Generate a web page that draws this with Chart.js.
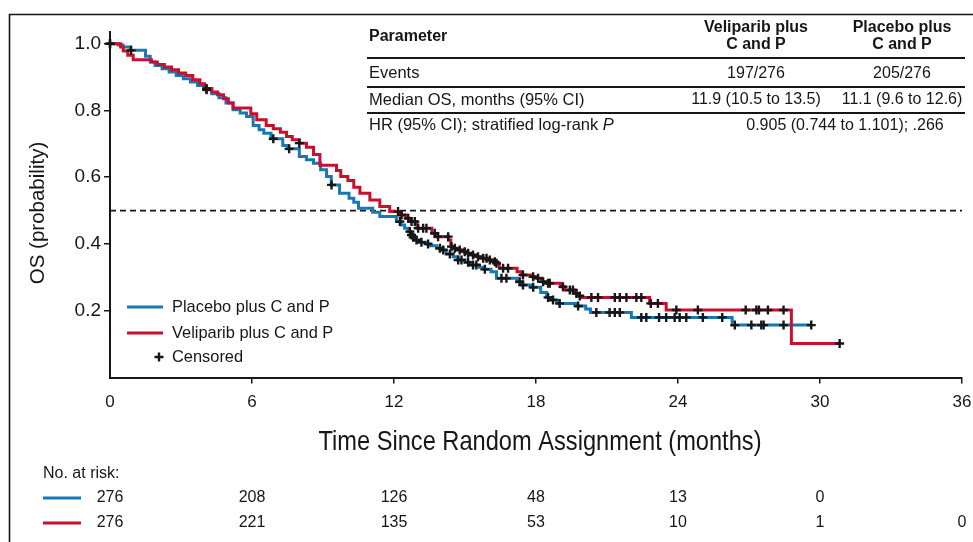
<!DOCTYPE html>
<html><head><meta charset="utf-8">
<script src="https://cdn.jsdelivr.net/npm/chart.js@4/dist/chart.umd.min.js"></script>
<style>html,body{margin:0;padding:0;background:#fff;}#c{display:block;}</style>
</head><body>
<canvas id="c" width="973" height="542"></canvas>
<script>
// ---- Data ----
const placeboT = [0,0.35,0.55,0.85,1.5,1.7,1.9,2.2,2.5,2.8,3.1,3.4,3.7,4.0,4.3,4.6,4.9,5.2,5.5,5.77,6.05,6.3,6.5,6.8,7.3,7.5,8.0,8.3,8.6,8.9,9.15,9.35,9.7,10.1,10.3,10.5,11.1,11.4,12.1,12.3,12.45,12.6,12.72,12.8,12.9,13.1,13.4,13.55,13.8,14.0,14.2,14.5,14.7,15.0,15.2,15.6,15.8,16.1,16.33,17.2,17.4,17.8,18.2,18.45,18.65,18.9,19.7,20.1,20.3,22.03,26.29,29.63];
const placeboS = [1.0,0.996,0.99,0.98,0.962,0.945,0.935,0.925,0.915,0.905,0.895,0.885,0.875,0.862,0.85,0.838,0.822,0.802,0.792,0.782,0.755,0.742,0.732,0.715,0.695,0.685,0.662,0.652,0.642,0.622,0.602,0.577,0.552,0.537,0.525,0.507,0.495,0.482,0.467,0.457,0.447,0.437,0.427,0.42,0.412,0.405,0.4,0.395,0.387,0.382,0.37,0.362,0.352,0.345,0.337,0.33,0.324,0.317,0.297,0.287,0.277,0.27,0.255,0.24,0.232,0.222,0.214,0.205,0.195,0.18,0.157,0.157];
const veliparibT = [0,0.45,0.56,0.75,0.98,1.75,2.0,2.3,2.6,2.9,3.2,3.5,3.8,4.0,4.3,4.55,4.8,5.0,5.2,5.95,6.2,6.6,6.9,7.2,7.46,7.7,8.0,8.3,8.6,8.87,9.57,9.75,10.05,10.3,10.56,10.98,11.4,11.82,12.25,12.5,12.65,12.95,13.0,13.6,13.75,14.3,14.4,14.55,14.7,14.95,15.1,15.3,15.5,15.7,16.0,16.2,16.3,16.45,17.2,17.4,17.85,18.05,18.25,18.45,19.05,19.2,19.65,19.8,19.95,22.8,23.5,28.79,30.83];
const veliparibS = [1.0,0.99,0.978,0.965,0.952,0.945,0.938,0.93,0.922,0.912,0.905,0.892,0.88,0.866,0.855,0.847,0.835,0.822,0.807,0.79,0.772,0.755,0.745,0.735,0.722,0.712,0.702,0.69,0.668,0.636,0.62,0.602,0.59,0.57,0.552,0.532,0.512,0.497,0.487,0.477,0.467,0.457,0.447,0.432,0.422,0.412,0.392,0.387,0.382,0.377,0.372,0.367,0.362,0.357,0.352,0.347,0.342,0.327,0.317,0.307,0.302,0.297,0.287,0.282,0.272,0.262,0.252,0.244,0.24,0.222,0.202,0.102,0.102];
const placeboCensorT = [0,0.89,4.08,6.9,7.57,9.36,12.25,12.67,12.74,12.81,12.95,13.16,13.44,13.94,14.08,14.36,14.71,14.85,15.13,15.34,15.48,15.84,16.54,16.75,17.31,17.45,17.88,18.51,18.72,19.0,19.78,20.55,21.11,21.33,21.54,22.45,22.66,23.2,23.5,23.86,24.07,24.35,25.05,25.87,26.4,27.1,27.52,27.62,28.46,29.63];
const veliparibCensorT = [0,4.08,8.0,12.17,12.32,12.6,12.74,12.88,13.02,13.23,13.37,13.72,13.86,14.29,14.43,14.57,14.78,14.99,15.13,15.34,15.55,15.77,15.91,16.05,16.26,16.33,16.61,16.82,17.45,17.88,18.09,18.3,18.51,18.58,19.14,19.43,19.56,19.71,19.85,20.34,20.62,21.33,21.54,21.82,22.24,22.45,22.85,23.15,23.93,24.84,26.86,27.31,27.42,27.8,28.46,30.83];
const xTicks = [0,6,12,18,24,30,36];
const yTicks = [0.2,0.4,0.6,0.8,1.0];
const medianRef = 0.5;
const riskTimes = [0,6,12,18,24,30,36];
const riskPlacebo = [276,208,126,48,13,0,null];
const riskVeliparib = [276,221,135,53,10,1,0];
const seriesNames = ['Placebo plus C and P','Veliparib plus C and P','Censored'];
const tableHeaders = ['Parameter',['Veliparib plus','C and P'],['Placebo plus','C and P']];
const tableRows = [['Events','197/276','205/276'],['Median OS, months (95% CI)','11.9 (10.5 to 13.5)','11.1 (9.6 to 12.6)']];
const hrLabel = ['HR (95% CI); stratified log-rank ','P'];
const hrValue = '0.905 (0.744 to 1.101); .266';
const xTitle = 'Time Since Random Assignment (months)';
const yTitle = 'OS (probability)';
const riskTitle = 'No. at risk:';

// ---- Style ----
const BLUE = '#1878b4';
const RED = '#c8102e';
const INK = '#161616';
const FONT = "'Liberation Sans', Arial, Helvetica, sans-serif";

function stepAt(T, S, t){ let v = S[0]; for (let i=0;i<T.length;i++){ if (T[i] <= t) v = S[i]; else break; } return v; }
const pts = (T,S) => T.map((t,i)=>({x:t,y:S[i]}));

const overlay = {
  id:'overlay',
  afterDraw(chart){
    const ctx = chart.ctx, xs = chart.scales.x;
    ctx.save();
    ctx.fillStyle = INK; ctx.strokeStyle = INK;
    // frame
    ctx.lineWidth = 1.6;
    ctx.beginPath(); ctx.moveTo(9.5,542); ctx.lineTo(9.5,14.5); ctx.lineTo(973,14.5); ctx.stroke();
    // table
    const c1 = 369, c2 = 756, c3 = 902, tR = 965;
    ctx.textBaseline = 'middle';
    ctx.font = 'bold 16px ' + FONT;
    ctx.textAlign = 'left'; ctx.fillText(tableHeaders[0], c1, 37);
    ctx.textAlign = 'center';
    ctx.fillText(tableHeaders[1][0], c2, 28); ctx.fillText(tableHeaders[1][1], c2, 45);
    ctx.fillText(tableHeaders[2][0], c3, 28); ctx.fillText(tableHeaders[2][1], c3, 45);
    ctx.lineWidth = 2.2;
    ctx.beginPath(); ctx.moveTo(367,58); ctx.lineTo(tR,58); ctx.stroke();
    ctx.lineWidth = 1.8;
    ctx.beginPath(); ctx.moveTo(367,87); ctx.lineTo(tR,87); ctx.moveTo(367,113); ctx.lineTo(tR,113); ctx.stroke();
    const rowY = [73.5,100];
    tableRows.forEach((r,i)=>{
      ctx.font = '16.5px ' + FONT;
      ctx.textAlign='left'; ctx.fillText(r[0], c1, rowY[i]);
      ctx.font = '16px ' + FONT;
      ctx.textAlign='center'; ctx.fillText(r[1], c2, rowY[i]); ctx.fillText(r[2], c3, rowY[i]);
    });
    ctx.font = '16.5px ' + FONT;
    ctx.textAlign='left'; ctx.fillText(hrLabel[0], c1, 125.5);
    const w = ctx.measureText(hrLabel[0]).width;
    ctx.font = 'italic 16.5px ' + FONT; ctx.fillText(hrLabel[1], c1 + w, 125.5);
    ctx.font = '16px ' + FONT; ctx.textAlign='center'; ctx.fillText(hrValue, 845, 125.5);
    // legend in plot
    ctx.lineWidth = 3;
    ctx.strokeStyle = BLUE; ctx.beginPath(); ctx.moveTo(127,307); ctx.lineTo(163,307); ctx.stroke();
    ctx.strokeStyle = RED; ctx.beginPath(); ctx.moveTo(127,333); ctx.lineTo(163,333); ctx.stroke();
    ctx.strokeStyle = INK; ctx.lineWidth = 2.4;
    ctx.beginPath(); ctx.moveTo(154.5,357); ctx.lineTo(163.5,357); ctx.moveTo(159,352.5); ctx.lineTo(159,361.5); ctx.stroke();
    ctx.textAlign='left'; ctx.font = '16.4px ' + FONT;
    ctx.fillText(seriesNames[0], 172, 307); ctx.fillText(seriesNames[1], 172, 333); ctx.fillText(seriesNames[2], 172, 357);
    // x title (condensed)
    ctx.font = '28px ' + FONT;
    const tw = ctx.measureText(xTitle).width, target = 443;
    ctx.save(); ctx.translate(540, 450); ctx.scale(target/tw, 1);
    ctx.textAlign='center'; ctx.textBaseline='alphabetic'; ctx.fillText(xTitle, 0, 0); ctx.restore();
    // y title
    ctx.save(); ctx.translate(38, 213); ctx.rotate(-Math.PI/2);
    ctx.font = '20.5px ' + FONT; ctx.textAlign='center'; ctx.textBaseline='middle'; ctx.fillText(yTitle, 0, 0); ctx.restore();
    // risk table
    ctx.font = '16px ' + FONT; ctx.textAlign='left'; ctx.textBaseline='middle';
    ctx.fillText(riskTitle, 43, 474);
    ctx.lineWidth = 3;
    ctx.strokeStyle = BLUE; ctx.beginPath(); ctx.moveTo(43,498); ctx.lineTo(81,498); ctx.stroke();
    ctx.strokeStyle = RED; ctx.beginPath(); ctx.moveTo(43,523); ctx.lineTo(81,523); ctx.stroke();
    ctx.textAlign='center';
    riskTimes.forEach((t,i)=>{
      const px = xs.getPixelForValue(t);
      if (riskPlacebo[i] !== null) ctx.fillText(String(riskPlacebo[i]), px, 498);
      if (riskVeliparib[i] !== null) ctx.fillText(String(riskVeliparib[i]), px, 523);
    });
    ctx.restore();
  }
};

const censorStyle = {showLine:false, pointStyle:'cross', pointRadius:4.5, pointBorderWidth:2.4, pointBorderColor:INK, pointBackgroundColor:INK, clip:false};
new Chart(document.getElementById('c'), {
  type:'line',
  data:{datasets:[
    Object.assign({label:'Censored Veliparib', data: veliparibCensorT.map(t=>({x:t,y:stepAt(veliparibT,veliparibS,t)}))}, censorStyle),
    Object.assign({label:'Censored Placebo', data: placeboCensorT.map(t=>({x:t,y:stepAt(placeboT,placeboS,t)}))}, censorStyle),
    {label:seriesNames[1], data: pts(veliparibT,veliparibS), borderColor:RED, borderWidth:3, pointRadius:0, stepped:'before', fill:false, clip:false},
    {label:seriesNames[0], data: pts(placeboT,placeboS), borderColor:BLUE, borderWidth:3, pointRadius:0, stepped:'before', fill:false, clip:false},
    {label:'Median', data:[{x:0,y:medianRef},{x:36,y:medianRef}], borderColor:INK, borderWidth:1.6, borderDash:[6,4], pointRadius:0, clip:false}
  ]},
  options:{
    responsive:false, animation:false, devicePixelRatio:1,
    layout:{padding:{left:0,right:11,top:32,bottom:0}},
    plugins:{legend:{display:false}, tooltip:{enabled:false}},
    elements:{line:{borderJoinStyle:'miter', borderCapStyle:'butt'}},
    scales:{
      x:{type:'linear', min:0, max:36,
        afterBuildTicks:s=>{s.ticks = xTicks.map(v=>({value:v}));},
        afterFit:s=>{s.height = 542-377.5; s.paddingLeft = 0; s.paddingRight = 0;},
        ticks:{font:{family:FONT, size:17}, color:INK, padding:9, maxRotation:0, callback:v=>String(v)},
        grid:{drawOnChartArea:false, drawTicks:true, tickLength:6, color:c=>(c.tick && c.tick.value===0)?'rgba(0,0,0,0)':INK, lineWidth:1.5},
        border:{display:true, color:INK, width:2}},
      y:{type:'linear', min:0, max:1.035,
        afterBuildTicks:s=>{s.ticks = yTicks.map(v=>({value:v}));},
        afterFit:s=>{s.width = 110; s.paddingTop = 0; s.paddingBottom = 0;},
        ticks:{font:{family:FONT, size:19}, color:INK, padding:3, callback:v=>Number(v).toFixed(1)},
        grid:{drawOnChartArea:false, drawTicks:true, tickLength:6, color:INK, lineWidth:1.5},
        border:{display:true, color:INK, width:2}}
    }
  },
  plugins:[overlay]
});
</script>
</body></html>
